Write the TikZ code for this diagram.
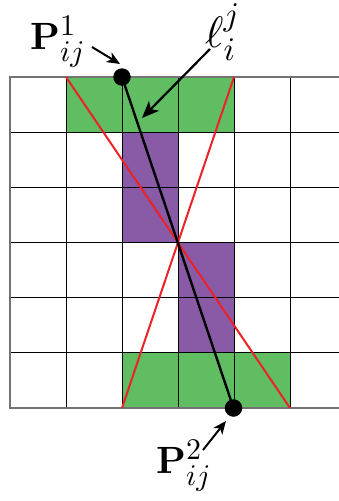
\documentclass[tikz,border=0pt]{standalone}
\DeclareFontShape{OT1}{cmr}{m}{n}{<->cmr10}{}
\DeclareFontShape{OT1}{cmr}{bx}{n}{<->cmbx10}{}
\DeclareFontShape{OML}{cmm}{m}{it}{<->cmmi10}{}
\DeclareFontShape{OMS}{cmsy}{m}{n}{<->cmsy10}{}
\DeclareFontShape{OMX}{cmex}{m}{n}{<->cmex10}{}
\DeclareMathSizes{38}{38}{30}{22}
\DeclareMathSizes{44}{44}{33}{24}
\usetikzlibrary{arrows.meta}
\definecolor{cellgreen}{RGB}{96,189,98}
\definecolor{cellpurple}{RGB}{137,90,165}
\definecolor{segred}{RGB}{236,34,39}
\begin{document}
\begin{tikzpicture}[x=1pt,y=-1pt,
  gridline/.style={black,line width=0.9pt},
  outerline/.style={black!55,line width=1.6pt},
  redline/.style={segred,line width=2pt},
  segline/.style={black,line width=2.4pt},
  dot/.style={circle,fill=black,inner sep=0pt,minimum size=17.5pt},
  lbl/.style={inner sep=0pt,anchor=base west,font=\fontsize{38}{46}\selectfont},
  elllbl/.style={inner sep=0pt,anchor=base west,font=\fontsize{44}{52}\selectfont},
  ptr/.style={black,line width=2pt,-{Stealth[length=13pt,width=11pt,inset=3.5pt]}},
  bigptr/.style={black,line width=2.2pt,-{Stealth[length=17pt,width=14pt,inset=4.5pt]}}]
\useasboundingbox (0,0) rectangle (339,501);
% cell fills
\fill[cellgreen] (66,77) rectangle (234,132.17);
\fill[cellgreen] (122,352.83) rectangle (290,408);
\fill[cellpurple] (122,132.17) rectangle (178,242.5);
\fill[cellpurple] (178,242.5) rectangle (234,352.83);
% grid
\foreach \x in {66,122,178,234,290} \draw[gridline] (\x,77) -- (\x,408);
\foreach \y in {132.17,187.33,242.5,297.67,352.83} \draw[gridline] (10,\y) -- (339,\y);
\draw[outerline] (339,77) -- (10,77) -- (10,408) -- (339,408);
% corner coordinates
\coordinate (tl) at (66,77);
\coordinate (tr) at (234,77);
\coordinate (bl) at (122,408);
\coordinate (br) at (290,408);
% red lines
\draw[redline] (tl) -- (br);
\draw[redline] (tr) -- (bl);
% endpoints
\coordinate (c1) at (122,77);
\coordinate (c2) at (233.5,408);
\draw[segline] (c1) -- (c2);
\node[dot] (p1) at (c1) {};
\node[dot] (p2) at (c2) {};
% labels
\node[lbl] (lp1) at (30,49) {$\mathbf{P}^1_{ij}$};
\node[lbl] (lp2) at (156,473) {$\mathbf{P}^2_{ij}$};
\node[elllbl] (ll) at (205,47) {$\ell^j_i$};
% pointers
\coordinate (a1s) at (92,47);
\coordinate (a1e) at (120,64);
\coordinate (a2s) at (203,450);
\coordinate (a2e) at (226,421);
\coordinate (a3s) at (210,49);
\coordinate (a3e) at (142,118);
\draw[ptr] (a1s) -- (a1e);
\draw[ptr] (a2s) -- (a2e);
\draw[bigptr] (a3s) -- (a3e);
\end{tikzpicture}
\end{document}
